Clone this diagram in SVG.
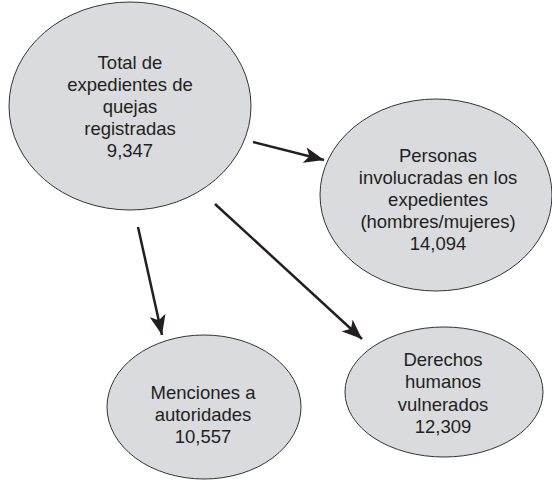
<svg xmlns="http://www.w3.org/2000/svg" width="552" height="481" viewBox="0 0 552 481">
<style>
.n{fill:#d9dbde;stroke:#333;stroke-width:1}
.t{font-family:"Liberation Sans",Arial,sans-serif;font-size:18.5px;fill:#231f20;text-anchor:middle}
.c{stroke:#231f20;stroke-width:2.5;fill:none;marker-end:url(#ah)}
</style>
<defs>
<marker id="ah" markerUnits="userSpaceOnUse" markerWidth="22" markerHeight="16" refX="20" refY="8" orient="auto">
<path d="M0,0 L20,8 L0,16 L5,8 Z" fill="#231f20"/>
</marker>
</defs>
<rect width="552" height="481" fill="#fff"/>
<g id="connectors">
<line class="c" x1="253" y1="142" x2="324" y2="160"/>
<line class="c" x1="138" y1="227" x2="162" y2="335"/>
<line class="c" x1="215" y1="204" x2="362" y2="339"/>
</g>
<g id="total">
<ellipse class="n" cx="130" cy="106" rx="121" ry="104"/>
<text class="t" x="130" y="69">Total de</text>
<text class="t" x="130" y="91">expedientes de</text>
<text class="t" x="130" y="113">quejas</text>
<text class="t" x="130" y="135">registradas</text>
<text class="t" x="130" y="157">9,347</text>
</g>
<g id="personas">
<ellipse class="n" cx="436" cy="195" rx="116" ry="96"/>
<text class="t" x="438" y="162">Personas</text>
<text class="t" x="438" y="184">involucradas en los</text>
<text class="t" x="438" y="206">expedientes</text>
<text class="t" x="438" y="228">(hombres/mujeres)</text>
<text class="t" x="438" y="250">14,094</text>
</g>
<g id="menciones">
<ellipse class="n" cx="204" cy="407" rx="97" ry="72"/>
<text class="t" x="203" y="399">Menciones a</text>
<text class="t" x="203" y="421">autoridades</text>
<text class="t" x="203" y="443">10,557</text>
</g>
<g id="derechos">
<ellipse class="n" cx="444" cy="392" rx="99" ry="65"/>
<text class="t" x="443" y="366">Derechos</text>
<text class="t" x="443" y="388">humanos</text>
<text class="t" x="443" y="411">vulnerados</text>
<text class="t" x="443" y="433">12,309</text>
</g>
</svg>
